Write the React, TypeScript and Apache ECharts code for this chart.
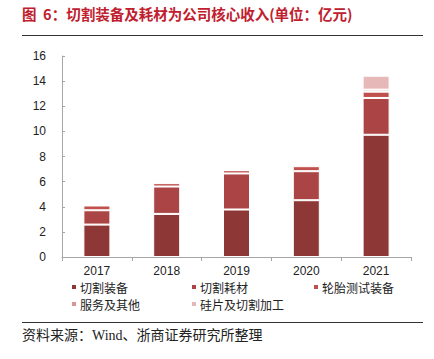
import React, { useEffect, useRef } from "react";
import * as echarts from "echarts";

const years = ["2017", "2018", "2019", "2020", "2021"];
const seriesNames = ["切割装备", "切割耗材", "轮胎测试装备", "服务及其他", "硅片及切割加工"];
const cuttingEquipment = [2.58, 3.43, 3.78, 4.52, 9.73];
const cuttingConsumables = [1.14, 2.18, 2.87, 2.31, 2.93];
const tireTestEquipment = [0.38, 0.27, 0.26, 0.4, 0.5];
const servicesOther = [0.06, 0.05, 0.06, 0.14, 0.16];
const waferProcessing = [0, 0, 0, 0, 1.11];
const yTicks = { min: 0, max: 16, interval: 2 };

const colors = ["#8E3737", "#AB4545", "#C0504D", "#D99694", "#E6B9B8"];
const seriesData = [cuttingEquipment, cuttingConsumables, tireTestEquipment, servicesOther, waferProcessing];

export default function App() {
  const ref = useRef<HTMLDivElement>(null);
  useEffect(() => {
    document.body.style.margin = "0";
    const chart = echarts.init(ref.current!, undefined, { renderer: "svg" });
    const cjk = "'Noto Sans CJK SC', sans-serif";
    const legendPos = [
      { left: 70, top: 281 },
      { left: 190, top: 281 },
      { left: 312, top: 281 },
      { left: 70, top: 298 },
      { left: 190, top: 298 },
    ];
    chart.setOption({
      animation: false,
      color: colors,
      title: {
        text: "图\u00A0\u00A06：切割装备及耗材为公司核心收入(单位：亿元)",
        left: 22,
        top: 6,
        padding: 0,
        textStyle: { fontSize: 14.5, fontWeight: "bold", color: "#C0202E", fontFamily: cjk },
      },
      graphic: [
        { type: "line", shape: { x1: 22, y1: 35.5, x2: 423, y2: 35.5 }, style: { stroke: "#333", lineWidth: 1 } },
        { type: "line", shape: { x1: 22, y1: 322.5, x2: 423, y2: 322.5 }, style: { stroke: "#333", lineWidth: 1 } },
        {
          type: "text",
          left: 22,
          top: 328,
          style: {
            text: "资料来源：Wind、浙商证券研究所整理",
            fontSize: 14,
            fill: "#222",
            fontFamily: "'Liberation Serif', 'Noto Sans CJK SC', serif",
          },
        },
      ],
      legend: seriesNames.map((n, i) => ({
        data: [n],
        left: legendPos[i].left,
        top: legendPos[i].top,
        padding: 0,
        icon: "rect",
        itemWidth: 6,
        itemHeight: 6,
        textStyle: { fontSize: 12, color: "#222", fontFamily: cjk, padding: [0, 0, 0, -2] },
      })),
      grid: { left: 62, right: 23, top: 56, bottom: 102, containLabel: false },
      xAxis: {
        type: "category",
        data: years,
        axisLine: { lineStyle: { color: "#A6A6A6" } },
        axisTick: { show: true, length: 4, lineStyle: { color: "#A6A6A6" } },
        axisLabel: { fontSize: 12, color: "#222", margin: 8, fontFamily: "'Liberation Sans', Arial, sans-serif" },
      },
      yAxis: {
        type: "value",
        min: yTicks.min,
        max: yTicks.max,
        interval: yTicks.interval,
        axisLine: { show: true, lineStyle: { color: "#A6A6A6" } },
        axisTick: { show: true, inside: true, length: 3, lineStyle: { color: "#A6A6A6" } },
        splitLine: { show: false },
        axisLabel: { fontSize: 12, color: "#222", margin: 16, fontFamily: "'Liberation Sans', Arial, sans-serif" },
      },
      series: seriesNames.map((n, i) => ({
        name: n,
        type: "bar",
        stack: "total",
        barWidth: 27,
        data: seriesData[i],
        itemStyle: { color: colors[i], borderColor: "#fff", borderWidth: 1 },
      })),
    });
    return () => chart.dispose();
  }, []);
  return <div ref={ref} style={{ width: 434, height: 359 }} />;
}
